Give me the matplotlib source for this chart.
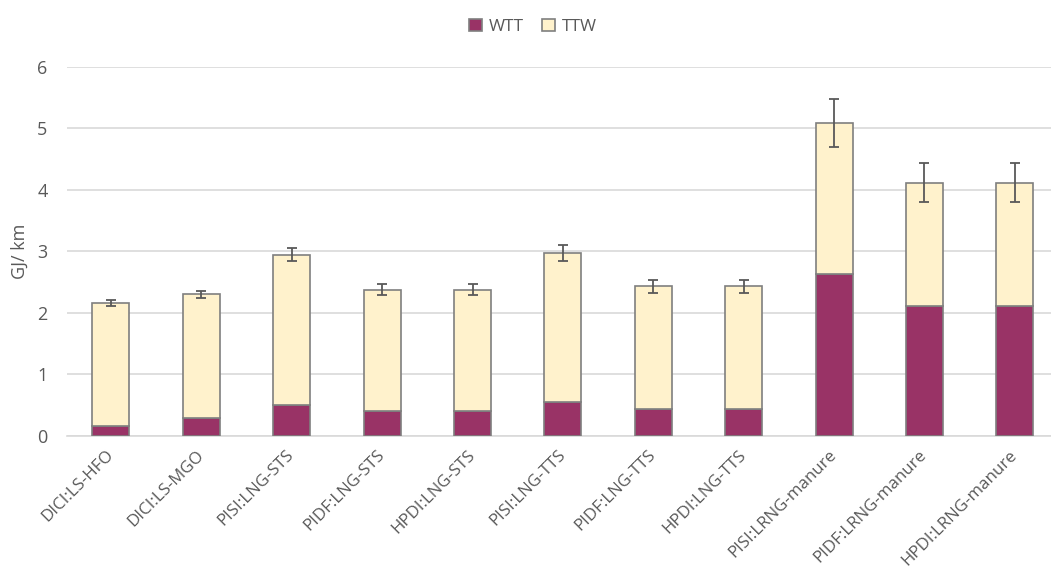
import numpy as np
import matplotlib.pyplot as plt

# Datos
categorias = ['DICI:LS-HFO', 'DICI:LS-MGO', 'PISI:LNG-STS', 'PIDF:LNG-STS',
              'HPDI:LNG-STS', 'PISI:LNG-TTS', 'PIDF:LNG-TTS', 'HPDI:LNG-TTS',
              'PISI:LRNG-manure', 'PIDF:LRNG-manure', 'HPDI:LRNG-manure']
wtt = [0.16, 0.30, 0.50, 0.41, 0.41, 0.55, 0.44, 0.44, 2.64, 2.12, 2.12]
total = [2.16, 2.30, 2.95, 2.38, 2.38, 2.97, 2.43, 2.43, 5.08, 4.12, 4.12]
error = [0.05, 0.05, 0.11, 0.09, 0.09, 0.13, 0.10, 0.10, 0.39, 0.32, 0.32]

ttw = [t - w for t, w in zip(total, wtt)]

plt.rcParams['font.family'] = ['Open Sans', 'DejaVu Sans']
gris = '#595959'

fig = plt.figure(figsize=(10.51, 5.76), dpi=100)
ax = fig.add_axes([0.0637, 0.243, 0.9363, 0.641])

x = np.arange(len(categorias))
ancho = 0.41
ax.bar(x, wtt, ancho, color='#993366', edgecolor='#7f7f7f', linewidth=1.2,
       label='WTT', zorder=3)
ax.bar(x, ttw, ancho, bottom=wtt, color='#FFF2CC', edgecolor='#7f7f7f',
       linewidth=1.2, label='TTW', zorder=3)
ax.errorbar(x, total, yerr=error, fmt='none', ecolor=gris, elinewidth=1.3,
            capsize=3.5, capthick=1.3, zorder=4)

ax.set_ylim(0, 6)
ax.set_xlim(-0.487, 10.40)
ax.set_yticks(range(0, 7))
ax.yaxis.grid(True, color='#d9d9d9', linewidth=1.2, zorder=0)
ax.set_axisbelow(True)
for s in ['top', 'right', 'left']:
    ax.spines[s].set_visible(False)
ax.spines['bottom'].set_color('#d9d9d9')
ax.spines['bottom'].set_linewidth(1.2)
ax.tick_params(axis='both', length=0, colors=gris, labelsize=13)
ax.tick_params(axis='y', pad=14)
ax.tick_params(axis='x', pad=12)
ax.set_xticks(x)
ax.set_xticklabels(categorias, rotation=45, ha='right', va='center',
                   rotation_mode='anchor', fontsize=12.2)
ax.set_ylabel('GJ/ km', color=gris, fontsize=13, labelpad=6)

fig.legend(loc='upper center', bbox_to_anchor=(0.507, 0.995), ncol=2,
           frameon=False, fontsize=12.5, labelcolor=gris, handlelength=0.75,
           handleheight=0.75, columnspacing=1.0, handletextpad=0.4)

fig.savefig('out.png', dpi=100)
